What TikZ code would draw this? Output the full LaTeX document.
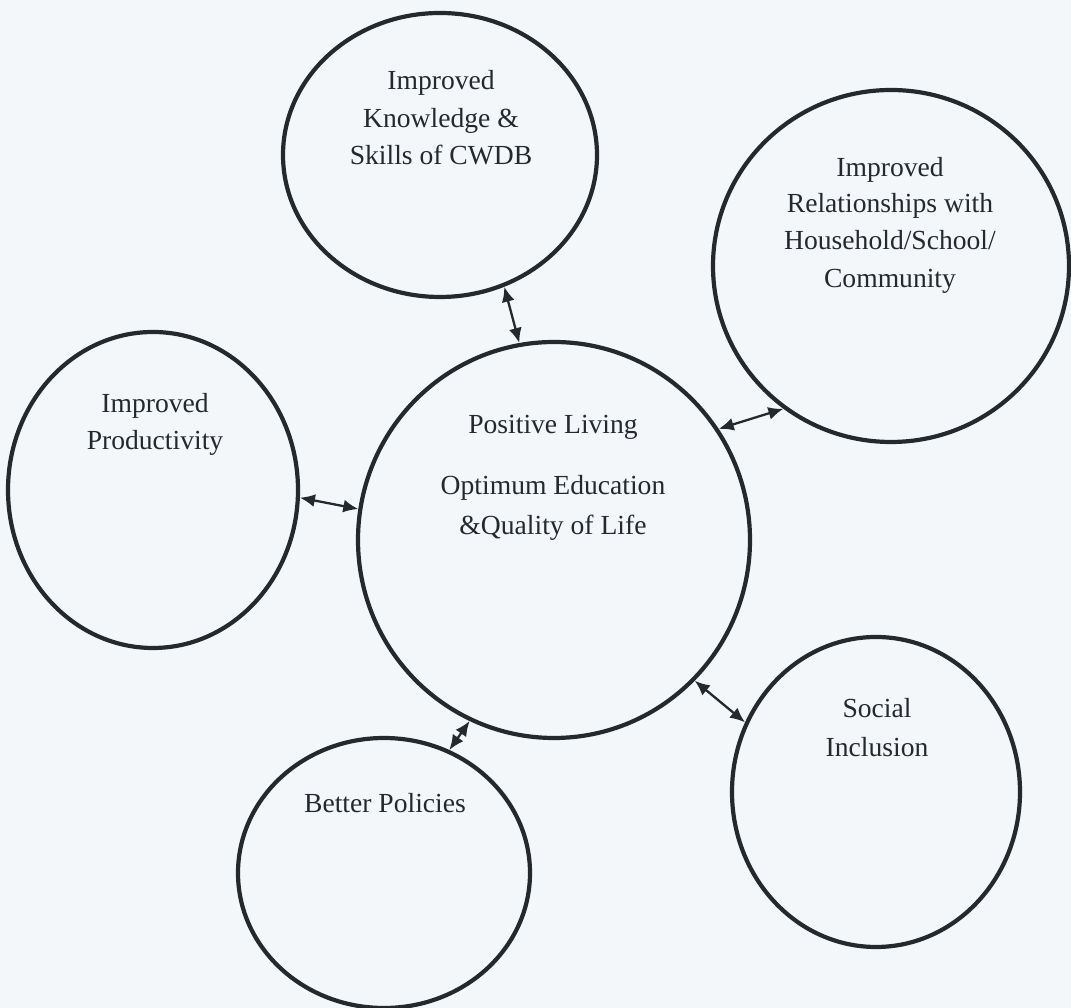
\documentclass[tikz,border=0pt]{standalone}
\usepackage{fontspec}
\setmainfont{Liberation Serif}
\usetikzlibrary{shapes.geometric,arrows.meta}
\definecolor{paper}{RGB}{243,247,250}
\definecolor{ink}{RGB}{36,41,46}
\tikzset{
  bubble/.style={draw=ink, line width=4.2pt, ellipse, inner sep=0pt},
  label/.style={text=ink, anchor=base, inner sep=0pt,
    font=\fontsize{27.6pt}{37.5pt}\selectfont},
  link/.style={draw=ink, line width=2.3pt,
    {Latex[length=15pt,width=13pt]}-{Latex[length=15pt,width=13pt]}}
}
\begin{document}
\begin{tikzpicture}[x=1pt,y=1pt]
  \fill[paper] (0,0) rectangle (1071,1008);
  \useasboundingbox (0,0) rectangle (1071,1008);

  % circles
  \node[bubble, minimum width=314pt, minimum height=284pt] (know) at (440,853) {};
  \node[bubble, minimum width=356pt, minimum height=352pt] (rel)  at (891,742) {};
  \node[bubble, minimum width=290pt, minimum height=316pt] (prod) at (153,518) {};
  \node[bubble, minimum width=392pt, minimum height=396pt] (core) at (554,468) {};
  \node[bubble, minimum width=292pt, minimum height=270pt] (pol)  at (384,135) {};
  \node[bubble, minimum width=288pt, minimum height=310pt] (soc)  at (876,216) {};

  % texts
  \node[label] (know1) at (441,918) {Improved};
  \node[label] (know2) at (441,880) {Knowledge \&};
  \node[label] (know3) at (441,843) {Skills of CWDB};

  \node[label] (rel1) at (890,831) {Improved};
  \node[label] (rel2) at (890,795) {Relationships with};
  \node[label] (rel3) at (890,758) {Household/School/};
  \node[label] (rel4) at (890,720) {Community};

  \node[label] (prod1) at (155,595) {Improved};
  \node[label] (prod2) at (155,558) {Productivity};

  \node[label] (core1) at (553,574) {Positive Living};
  \node[label] (core2) at (553,513) {Optimum Education};
  \node[label] (core3) at (553,473) {\&Quality of Life};

  \node[label] (pol1) at (385,195) {Better Policies};

  \node[label] (soc1) at (877,290) {Social};
  \node[label] (soc2) at (877,251) {Inclusion};

  % two-way links to the central circle
  \draw[link] (know.-64.6) -- (core.100.3);
  \draw[link] (core.34.5) -- (rel.233.5);
  \draw[link] (prod.-3.1) -- (core.171.9);
  \draw[link] (core.245.3) -- (pol.62.5);
  \draw[link] (core.-45.2) -- (soc.152.9);
\end{tikzpicture}
\end{document}
